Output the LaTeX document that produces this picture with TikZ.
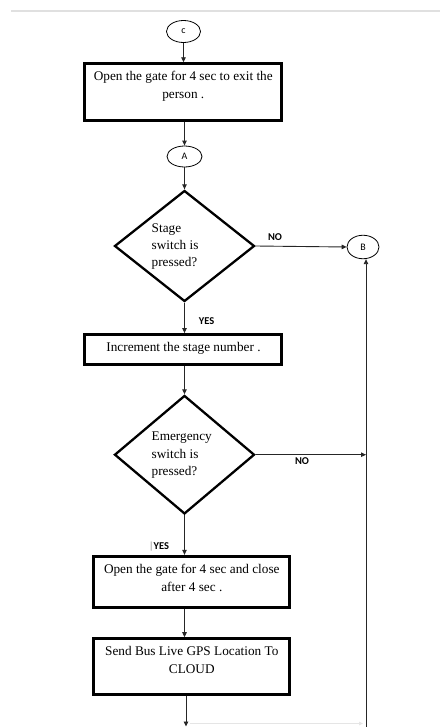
\documentclass[tikz,border=0pt]{standalone}
\usepackage{fontspec}
\setmainfont{Liberation Serif}
\newfontfamily\labfont{Carlito}
\usetikzlibrary{shapes.geometric,arrows.meta}
\begin{document}
\begin{tikzpicture}[x=1bp,y=-1bp,
  conn/.style={line width=0.9bp, draw=black!85, -{Triangle[length=5bp,width=4.5bp]}},
  faint/.style={line width=0.8bp, draw=black!10, -{Triangle[length=4bp,width=3.5bp]}},
  proc/.style={draw, line width=3bp, rectangle, inner sep=0},
  dec/.style={draw, line width=2.3bp, diamond, inner sep=0},
  term/.style={draw, line width=0.8bp, ellipse, inner sep=0, font=\labfont\fontsize{10}{11}\selectfont},
  ptext/.style={inner sep=0, align=center, font=\fontsize{13.3}{18}\selectfont},
  dtext/.style={inner sep=0, align=left, anchor=west, font=\fontsize{13.3}{17.5}\selectfont},
  lab/.style={inner sep=0, font=\labfont\bfseries\fontsize{10.5}{12}\selectfont}
]
\useasboundingbox (0,0) rectangle (440,727);
% top page edge
\draw[line width=2bp, draw=black!12] (11,11) -- (440,11);

% terminals
\node[term, minimum width=34bp, minimum height=22bp] (C) at (183.5,31.5) {c};
\node[term, minimum width=35bp, minimum height=21bp] (A) at (184.5,156.5) {A};
\node[term, minimum width=32bp, minimum height=23.5bp] (B) at (363,247) {B};

% process boxes
\node[proc, minimum width=197bp, minimum height=57bp] (box1) at (183.3,92.3) {};
\node[ptext] (t1) at (183.3,86.5) {Open the gate for 4 sec to exit the\\person .};
\node[proc, minimum width=197bp, minimum height=29.8bp] (box2) at (182.5,349.5) {};
\node[ptext] (t2) at (183.5,348.5) {Increment the stage number .};
\node[proc, minimum width=195.7bp, minimum height=50.7bp] (box3) at (191.8,581.7) {};
\node[ptext] (t3) at (191.8,578.3) {Open the gate for 4 sec and close\\after 4 sec .};
\node[proc, minimum width=195.7bp, minimum height=56bp] (box4) at (191.8,666.7) {};
\node[ptext] (t4) at (191.8,660.3) {Send Bus Live GPS Location To\\CLOUD};

% decisions
\node[dec, minimum width=140bp, minimum height=111bp] (d1) at (184.5,246) {};
\node[dtext] (dt1) at (151.5,246.5) {Stage\\switch is\\pressed?};
\node[dec, minimum width=140bp, minimum height=118.5bp] (d2) at (184.5,454.7) {};
\node[dtext] (dt2) at (151.5,455.5) {Emergency\\switch is\\pressed?};

% coordinates
\coordinate (rail) at (366,727);
\coordinate (out) at (186,726.5);
\coordinate (fa) at (190,723.5);
\coordinate (fb) at (363,723.5);

% connectors
\draw[conn] (C.south) -- (C.south |- box1.north);
\draw[conn] (A.north |- box1.south) -- (A.north);
\draw[conn] (A.south) -- (A.south |- d1.north);
\draw[conn] (d1.east) -- (B.west);
\draw[conn] (d1.south) -- (d1.south |- box2.north);
\draw[conn] (d1.south |- box2.south) -- (d2.north);
\draw[conn] (d2.east) -- (d2.east -| rail) ;
\draw[conn] (d2.south) -- (d2.south |- box3.north);
\draw[conn] (d2.south |- box3.south) -- (d2.south |- box4.north);
\draw[conn] (out |- box4.south) -- (out);
\draw[conn] (rail) -- (rail |- B.south);
\draw[faint] (fa) -- (fb);

% labels
\node[lab] (no1) at (275,237.5) {NO};
\node[lab] (no2) at (302,461.5) {NO};
\node[lab] (yes1) at (206.5,321.5) {YES};
\node[lab] (yes2) at (159,546.5) {\textcolor{black!45}{\textmd{|}}YES};
\end{tikzpicture}
\end{document}
